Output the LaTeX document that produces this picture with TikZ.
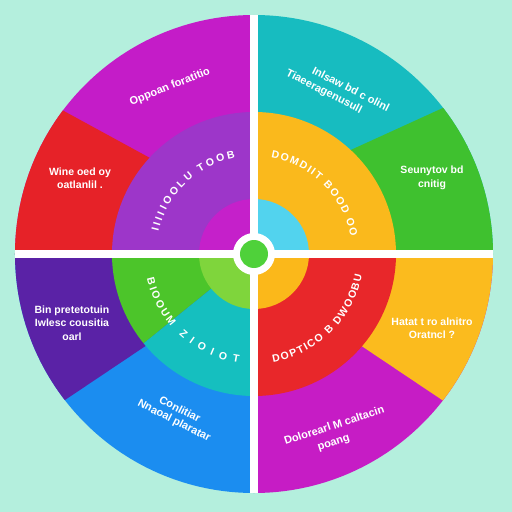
\documentclass[tikz,border=0pt]{standalone}
\usepackage{fontspec}
\setmainfont{Liberation Sans}
\usetikzlibrary{decorations.text}
\definecolor{bgc}{HTML}{B4EFDD}
\definecolor{cMag}{HTML}{C41CC8}
\definecolor{cRed}{HTML}{E62228}
\definecolor{cPurple}{HTML}{9D36C9}
\definecolor{cInTL}{HTML}{C520CA}
\definecolor{cTeal}{HTML}{17BCC0}
\definecolor{cGreen}{HTML}{3FC12F}
\definecolor{cOrange}{HTML}{FAB91C}
\definecolor{cInTR}{HTML}{52D3EE}
\definecolor{cIndigo}{HTML}{5A22A6}
\definecolor{cBlue}{HTML}{1B8DF0}
\definecolor{cGreenM}{HTML}{4CC52A}
\definecolor{cTealM}{HTML}{15BFBF}
\definecolor{cInBL}{HTML}{7FD53C}
\definecolor{cYel}{HTML}{FBBB1E}
\definecolor{cMag2}{HTML}{C61CC5}
\definecolor{cRedM}{HTML}{E8272A}
\definecolor{cInBR}{HTML}{FBB81A}
\definecolor{cCenter}{HTML}{4FD13A}
\begin{document}
\begin{tikzpicture}[x=1pt,y=1pt,
  lab/.style={text=white,font=\bfseries\fontsize{10.5}{13.5}\selectfont,align=center,inner sep=0pt},
  rlab/.style={text=white,font=\bfseries\fontsize{11}{13}\selectfont,inner sep=0pt},
  arctext/.style={decorate,decoration={text along path,text align=fit to path,text color=white,text={|\bfseries\fontsize{10.5}{13}\selectfont|#1}}}]
\fill[bgc] (-254,-258) rectangle (258,254);
\useasboundingbox (-254,-258) rectangle (258,254);
% outer ring
\begin{scope}
\clip (0,0) circle (239);
\fill[cMag] (0,0) rectangle (-260,260);
\fill[cRed] (0,0)--(0,39.3)--(-300,202.9)--(-300,0)--cycle;
\fill[cTeal] (0,0) rectangle (260,260);
\fill[cGreen] (0,0)--(0,59.9)--(300,196.7)--(300,0)--cycle;
\fill[cBlue] (0,0) rectangle (-260,-260);
\fill[cIndigo] (0,0)--(0,-19.3)--(-300,-220.4)--(-300,0)--cycle;
\fill[cMag2] (0,0) rectangle (260,-260);
\fill[cYel] (0,0)--(0,-19.9)--(300,-221)--(300,0)--cycle;
\end{scope}
% middle ring
\fill[cPurple] (0,0) -- (90:142) arc[start angle=90,end angle=180,radius=142] -- cycle;
\fill[cOrange] (0,0) -- (0:142) arc[start angle=0,end angle=90,radius=142] -- cycle;
\fill[cGreenM] (0,0) -- (180:142) arc[start angle=180,end angle=219,radius=142] -- cycle;
\fill[cTealM] (0,0) -- (219:142) arc[start angle=219,end angle=270,radius=142] -- cycle;
\fill[cRedM] (0,0) -- (270:142) arc[start angle=270,end angle=360,radius=142] -- cycle;
% inner
\fill[cInTL] (0,0) -- (90:55) arc[start angle=90,end angle=180,radius=55] -- cycle;
\fill[cInTR] (0,0) -- (0:55) arc[start angle=0,end angle=90,radius=55] -- cycle;
\fill[cInBL] (0,0) -- (180:55) arc[start angle=180,end angle=270,radius=55] -- cycle;
\fill[cInBR] (0,0) -- (270:55) arc[start angle=270,end angle=360,radius=55] -- cycle;
% cross
\draw[white,line width=8] (0,-239) -- (0,239);
\draw[white,line width=8] (-239,0) -- (239,0);
% centre
\fill[white] (0,0) circle (21);
\fill[cCenter] (0,0) circle (14);
% curved texts
\path[arctext={IIIIIOOLU TOOB}] (167:98) arc[start angle=167,end angle=101,radius=98];
\path[arctext={DOMDIIT BOOD OO}] (80:98) arc[start angle=80,end angle=10,radius=98];
\path[arctext={BIOOUM}] (193:110) arc[start angle=193,end angle=221,radius=110];
\path[arctext={ZIOIOT}] (227:110) arc[start angle=227,end angle=262,radius=110];
\path[arctext={DOPTICO B DWOOBU}] (280:110) arc[start angle=280,end angle=349,radius=110];
% outer labels
\node[rlab,rotate=22] (l1) at (-84,167) {Oppoan foratitio};
\node[rlab,rotate=-27] (l2a) at (97,165) {Inlsaw bd c olinl};
\node[rlab,rotate=-27] (l2b) at (70,162) {Tiaeeragenusull};
\node[lab] (l3) at (-174,76) {Wine oed oy\\oatlanlil .};
\node[lab] (l4) at (178,76) {Seunytov bd\\cnitig};
\node[lab] (l5) at (-182,-69) {Bin pretetotuin\\Iwlesc cousitia\\oarl};
\node[lab] (l6) at (178,-74) {Hatat t ro alnitro\\Oratncl ?};
\node[rlab,rotate=-27] (l7a) at (-74,-155) {Conlitiar};
\node[rlab,rotate=-27] (l7b) at (-80,-167) {Nnaoal plaratar};
\node[rlab,rotate=18] (l8a) at (80,-171) {Dolorearl M caltacin};
\node[rlab,rotate=18] (l8b) at (80,-190) {poang};
\end{tikzpicture}
\end{document}
